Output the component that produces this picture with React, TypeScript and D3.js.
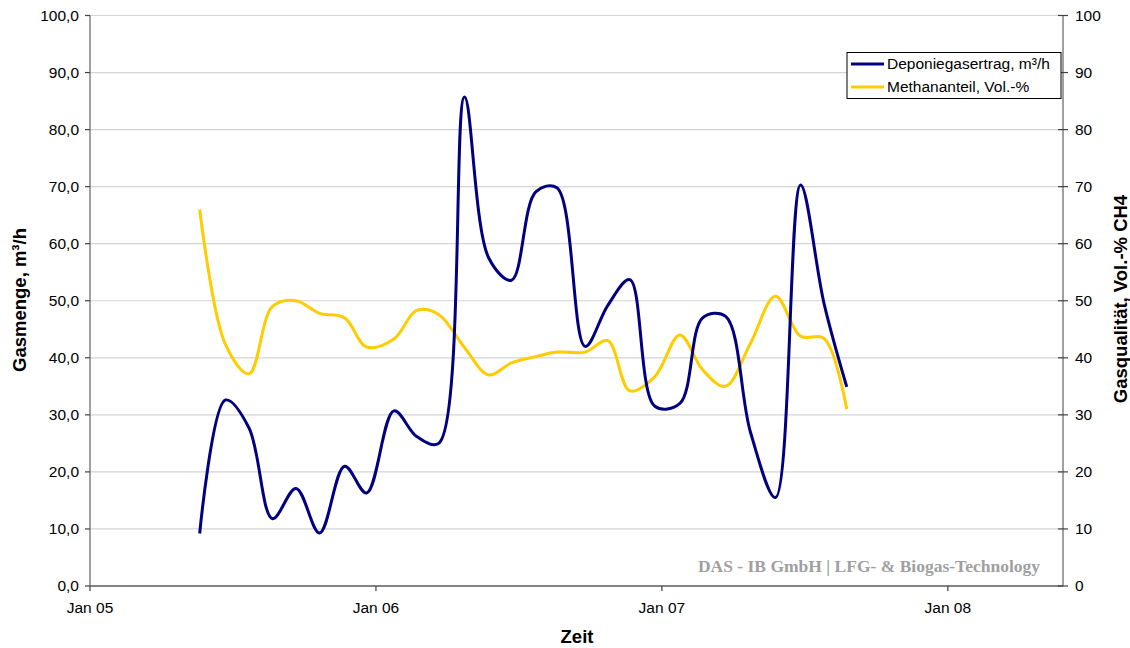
import React from "react";
import * as d3 from "d3";

const sampleDates: string[] = [
  "2005-05-21","2005-06-23","2005-07-23","2005-08-22","2005-09-21","2005-10-21","2005-11-22","2005-12-20",
  "2006-01-24","2006-02-22","2006-03-22","2006-04-24","2006-05-25","2006-06-23","2006-07-24","2006-08-20",
  "2006-09-25","2006-10-24","2006-11-21","2006-12-23","2007-01-24","2007-02-22","2007-03-23","2007-04-24",
  "2007-05-26","2007-06-27","2007-07-27","2007-08-25",
];
const gasYield: number[] = [
  9.2, 32.6, 27.7, 11.8, 17.1, 9.3, 21.0, 16.3,
  30.7, 26.2, 25.0, 85.7, 57.5, 53.6, 69.1, 69.8,
  42.0, 49.2, 53.7, 31.5, 32.0, 47.0, 47.3, 27.0,
  15.5, 70.3, 49.5, 34.9,
];
const methane: number[] = [
  66.0, 42.3, 37.2, 49.0, 50.0, 47.8, 47.0, 41.9,
  43.3, 48.3, 47.6, 41.8, 37.0, 39.1, 40.2, 41.0,
  41.0, 43.0, 34.2, 36.7, 44.0, 37.9, 35.0, 42.5,
  50.8, 43.8, 43.4, 31.0,
];
const xTicks: string[] = ["2005-01-01", "2006-01-01", "2007-01-01", "2008-01-01"];
const xTickLabels: string[] = ["Jan 05", "Jan 06", "Jan 07", "Jan 08"];
const yTicks: number[] = [0, 10, 20, 30, 40, 50, 60, 70, 80, 90, 100];

const W = 1130, H = 648;
const L = 90, R = 1063, T = 15.5, B = 586;
const font = "'Liberation Sans', Arial, sans-serif";

export default function App() {
  const parse = d3.utcParse("%Y-%m-%d");
  const x = d3.scaleUtc()
    .domain([parse("2005-01-01")!, parse("2008-05-27")!])
    .range([L, R]);
  const yL = d3.scaleLinear().domain([0, 100]).range([B, T]);
  const yR = d3.scaleLinear().domain([0, 100]).range([B, T]);
  const dates = sampleDates.map((m) => parse(m)!);

  const lineL = d3.line<number>()
    .x((_, i) => x(dates[i]))
    .y((v) => yL(v))
    .curve(d3.curveCatmullRom.alpha(0.5));
  const lineR = d3.line<number>()
    .x((_, i) => x(dates[i]))
    .y((v) => yR(v))
    .curve(d3.curveCatmullRom.alpha(0.5));

  const fmt = (v: number) => v.toFixed(1).replace(".", ",");

  return (
    <svg width={W} height={H} style={{ position: "absolute", left: 0, top: 0, background: "#fff" }} fontFamily={font}>
      {yTicks.map((t) => (
        <line key={"g" + t} x1={L} x2={R} y1={yL(t)} y2={yL(t)} stroke="#d4d4d4" strokeWidth={1.2} />
      ))}
      <path d={lineR(methane) || ""} fill="none" stroke="#FFCC00" strokeWidth={3} strokeLinejoin="round" />
      <path d={lineL(gasYield) || ""} fill="none" stroke="#000080" strokeWidth={3} strokeLinejoin="round" />
      <line x1={L} x2={L} y1={T} y2={B} stroke="#808080" strokeWidth={1.5} />
      <line x1={R} x2={R} y1={T} y2={B} stroke="#808080" strokeWidth={1.5} />
      <line x1={L} x2={R} y1={B} y2={B} stroke="#606060" strokeWidth={1.5} />
      {yTicks.map((t) => (
        <g key={"l" + t}>
          <line x1={L - 5} x2={L} y1={yL(t)} y2={yL(t)} stroke="#404040" strokeWidth={1.2} />
          <text x={79} y={yL(t)} dy="0.35em" textAnchor="end" fontSize={15.5} fill="#000">{fmt(t)}</text>
        </g>
      ))}
      {yTicks.map((t) => (
        <g key={"r" + t}>
          <line x1={R - 5} x2={R + 5} y1={yR(t)} y2={yR(t)} stroke="#404040" strokeWidth={1.2} />
          <text x={1075} y={yR(t)} dy="0.35em" textAnchor="start" fontSize={15.5} fill="#000">{t}</text>
        </g>
      ))}
      {xTicks.map((t, i) => {
        const px = x(parse(t)!);
        return (
          <g key={"x" + t}>
            <line x1={px} x2={px} y1={B} y2={B + 5} stroke="#404040" strokeWidth={1.2} />
            <text x={px} y={613} textAnchor="middle" fontSize={15.5} fill="#000">{xTickLabels[i]}</text>
          </g>
        );
      })}
      <text x={577} y={643} textAnchor="middle" fontSize={18.5} fontWeight="bold">Zeit</text>
      <text transform="translate(26,300) rotate(-90)" textAnchor="middle" fontSize={18.5} fontWeight="bold">Gasmenge, m³/h</text>
      <text transform="translate(1127,299) rotate(-90)" textAnchor="middle" fontSize={18.5} fontWeight="bold">Gasqualität, Vol.-% CH4</text>
      <text x={1040} y={572} textAnchor="end" fontSize={17.5} fontWeight="bold" fill="#a0a0a0"
        fontFamily="'Liberation Serif', 'Times New Roman', serif">DAS - IB GmbH | LFG- &amp; Biogas-Technology</text>
      <rect x={847} y={52.5} width={214} height={46} fill="#fff" stroke="#000" strokeWidth={1} />
      <line x1={851} x2={884} y1={64} y2={64} stroke="#000080" strokeWidth={3} />
      <text x={887} y={64} dy="0.35em" fontSize={15.5}>Deponiegasertrag, m³/h</text>
      <line x1={851} x2={884} y1={87} y2={87} stroke="#FFCC00" strokeWidth={3} />
      <text x={887} y={87} dy="0.35em" fontSize={15.5}>Methananteil, Vol.-%</text>
    </svg>
  );
}
